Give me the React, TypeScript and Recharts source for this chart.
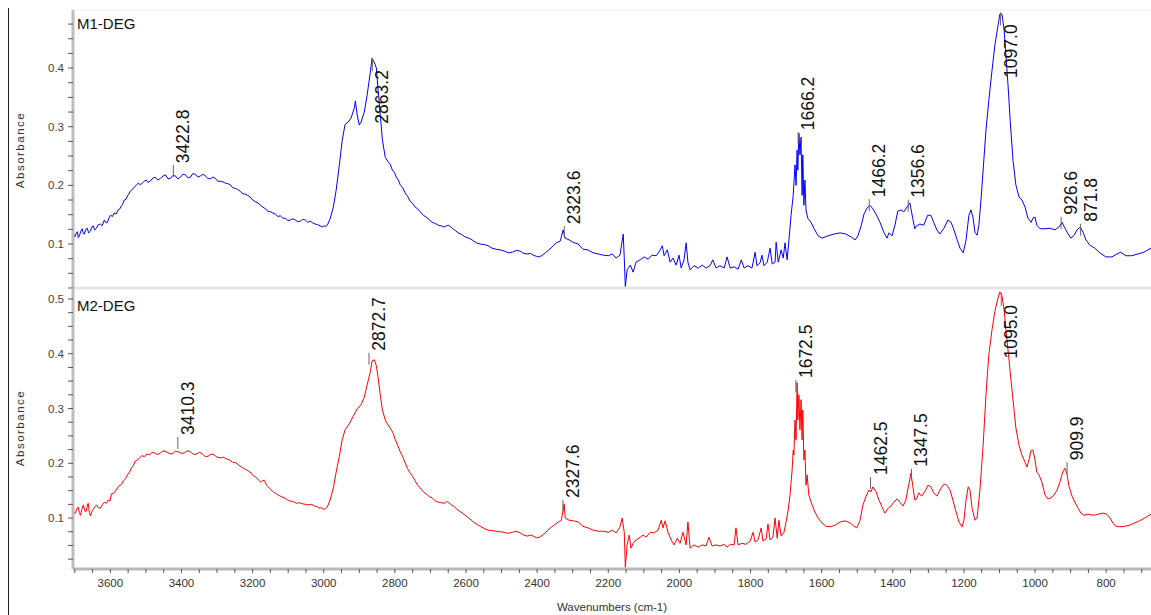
import React from "react"
import { LineChart, Line, XAxis, YAxis, ReferenceDot, ReferenceLine } from "recharts"

// M1-DEG spectrum: [wavenumber cm-1, absorbance]
const m1Spectrum: [number, number][] = [
    [3704, 0.119], [3700, 0.112], [3696, 0.118], [3693, 0.121], [3690, 0.111], [3687, 0.114], [3683, 0.122],
    [3679, 0.126], [3676, 0.118], [3673, 0.117], [3669, 0.125], [3665, 0.127], [3661, 0.119], [3656, 0.122],
    [3652, 0.129], [3648, 0.131], [3644, 0.124], [3639, 0.127], [3634, 0.133], [3628, 0.134], [3623, 0.131],
    [3617, 0.141], [3612, 0.136], [3608, 0.137], [3604, 0.144], [3600, 0.149], [3594, 0.147], [3589, 0.153],
    [3584, 0.151], [3578, 0.158], [3573, 0.160], [3569, 0.165], [3565, 0.168], [3561, 0.175], [3556, 0.176],
    [3552, 0.182], [3548, 0.185], [3544, 0.190], [3538, 0.193], [3533, 0.197], [3527, 0.200], [3521, 0.204],
    [3516, 0.201], [3510, 0.204], [3505, 0.207], [3499, 0.209], [3494, 0.205], [3488, 0.207], [3481, 0.212],
    [3474, 0.214], [3467, 0.209], [3459, 0.212], [3452, 0.216], [3445, 0.218], [3438, 0.211], [3431, 0.212],
    [3424, 0.217], [3417, 0.216], [3410, 0.211], [3403, 0.214], [3396, 0.219], [3389, 0.218], [3382, 0.213],
    [3375, 0.214], [3368, 0.220], [3361, 0.219], [3354, 0.214], [3347, 0.216], [3340, 0.219], [3333, 0.216],
    [3326, 0.212], [3319, 0.211], [3312, 0.214], [3305, 0.212], [3298, 0.207], [3291, 0.207], [3284, 0.206],
    [3277, 0.204], [3270, 0.203], [3263, 0.201], [3256, 0.196], [3249, 0.195], [3242, 0.193], [3235, 0.190],
    [3228, 0.186], [3221, 0.185], [3214, 0.183], [3207, 0.180], [3200, 0.175], [3192, 0.172], [3185, 0.170],
    [3178, 0.166], [3171, 0.163], [3164, 0.160], [3157, 0.156], [3150, 0.155], [3143, 0.153], [3136, 0.151],
    [3129, 0.147], [3122, 0.148], [3115, 0.144], [3108, 0.144], [3101, 0.140], [3094, 0.141], [3087, 0.143],
    [3080, 0.141], [3073, 0.138], [3066, 0.139], [3059, 0.142], [3052, 0.141], [3045, 0.137], [3038, 0.139],
    [3031, 0.136], [3024, 0.134], [3017, 0.133], [3010, 0.131], [3004, 0.129], [2999, 0.131], [2994, 0.130],
    [2990, 0.132], [2982, 0.143], [2973, 0.163],
    [2965, 0.192], [2956, 0.235], [2948, 0.277], [2940, 0.304], [2931, 0.308], [2923, 0.315], [2914, 0.332],
    [2911, 0.344], [2906, 0.320], [2900, 0.303], [2895, 0.308], [2886, 0.325], [2878, 0.354], [2869, 0.393],
    [2864, 0.417], [2858, 0.410], [2852, 0.400], [2847, 0.362], [2841, 0.320], [2835, 0.277], [2827, 0.248],
    [2819, 0.240], [2813, 0.236], [2807, 0.226], [2801, 0.222], [2796, 0.214], [2790, 0.209], [2785, 0.201],
    [2778, 0.196], [2771, 0.187], [2764, 0.181], [2757, 0.173], [2750, 0.169], [2743, 0.163], [2736, 0.160],
    [2729, 0.155], [2720, 0.149], [2712, 0.146], [2703, 0.141], [2695, 0.137], [2686, 0.135], [2678, 0.132],
    [2670, 0.131], [2661, 0.129], [2655, 0.131], [2650, 0.132], [2644, 0.130], [2639, 0.127], [2630, 0.123],
    [2622, 0.119], [2612, 0.116], [2602, 0.112], [2592, 0.110], [2583, 0.107], [2571, 0.102], [2560, 0.100],
    [2549, 0.099], [2538, 0.097], [2527, 0.093], [2515, 0.091], [2504, 0.090], [2493, 0.088], [2481, 0.085],
    [2470, 0.086], [2459, 0.089], [2448, 0.088], [2438, 0.084], [2428, 0.083], [2419, 0.084], [2411, 0.081],
    [2402, 0.079], [2394, 0.078], [2385, 0.081], [2377, 0.085], [2369, 0.089], [2361, 0.093], [2353, 0.098],
    [2346, 0.102], [2335, 0.105], [2327, 0.124], [2321, 0.110], [2310, 0.107], [2299, 0.103], [2285, 0.100],
    [2271, 0.091], [2257, 0.090], [2243, 0.085], [2228, 0.083], [2214, 0.081], [2200, 0.080], [2189, 0.083],
    [2178, 0.076], [2167, 0.081], [2158, 0.117], [2155, 0.076], [2152, 0.027], [2147, 0.056], [2138, 0.064],
    [2130, 0.052], [2122, 0.069], [2110, 0.073], [2099, 0.078], [2088, 0.074], [2077, 0.081], [2065, 0.080],
    [2054, 0.090], [2048, 0.097], [2043, 0.080], [2034, 0.090], [2026, 0.069], [2018, 0.076], [2009, 0.064],
    [2001, 0.081], [1995, 0.059], [1987, 0.073], [1981, 0.102], [1976, 0.069], [1970, 0.056], [1959, 0.063],
    [1947, 0.059], [1936, 0.064], [1925, 0.059], [1914, 0.063], [1906, 0.073], [1897, 0.059], [1886, 0.063],
    [1874, 0.059], [1866, 0.078], [1857, 0.059], [1846, 0.061], [1835, 0.057], [1826, 0.073], [1818, 0.059],
    [1807, 0.063], [1796, 0.059], [1787, 0.086], [1782, 0.063], [1773, 0.068], [1768, 0.081], [1762, 0.063],
    [1753, 0.069], [1745, 0.093], [1739, 0.066], [1731, 0.069], [1728, 0.103], [1722, 0.069], [1714, 0.090],
    [1708, 0.076], [1703, 0.102], [1697, 0.073], [1692, 0.107], [1686, 0.149], [1680, 0.183], [1675, 0.235],
    [1672, 0.200], [1669, 0.260], [1667, 0.226], [1664, 0.289], [1661, 0.252], [1658, 0.282], [1655, 0.183],
    [1653, 0.252], [1650, 0.166], [1647, 0.209], [1644, 0.158], [1639, 0.144], [1630, 0.137], [1622, 0.127],
    [1610, 0.114], [1599, 0.110], [1582, 0.114], [1565, 0.117], [1548, 0.119], [1532, 0.117], [1517, 0.112],
    [1506, 0.107], [1498, 0.114], [1489, 0.131], [1481, 0.151], [1473, 0.161], [1464, 0.166], [1456, 0.160],
    [1447, 0.151], [1436, 0.137], [1425, 0.120], [1416, 0.110], [1411, 0.119], [1402, 0.114], [1394, 0.132],
    [1386, 0.156], [1377, 0.158], [1369, 0.155], [1360, 0.163], [1352, 0.170], [1344, 0.144], [1338, 0.126],
    [1333, 0.131], [1324, 0.134], [1313, 0.132], [1302, 0.149], [1293, 0.149], [1285, 0.137], [1276, 0.124],
    [1268, 0.117], [1256, 0.127], [1245, 0.141], [1236, 0.137], [1228, 0.124], [1219, 0.107], [1211, 0.093],
    [1202, 0.085], [1194, 0.107], [1186, 0.149], [1180, 0.158], [1174, 0.144], [1169, 0.120], [1163, 0.115],
    [1158, 0.132], [1152, 0.175], [1146, 0.226], [1138, 0.294], [1130, 0.345], [1121, 0.396], [1113, 0.439],
    [1104, 0.473], [1099, 0.492], [1093, 0.492], [1087, 0.465], [1082, 0.422], [1076, 0.371], [1070, 0.311],
    [1062, 0.243], [1054, 0.201], [1045, 0.180], [1037, 0.175], [1028, 0.163], [1020, 0.144], [1011, 0.137],
    [1006, 0.144], [1000, 0.146], [995, 0.132], [986, 0.126], [972, 0.126], [958, 0.127], [944, 0.124],
    [933, 0.129], [924, 0.137], [916, 0.127], [907, 0.117], [899, 0.110], [890, 0.115], [882, 0.124],
    [873, 0.129], [865, 0.120], [857, 0.107], [846, 0.098], [832, 0.093], [818, 0.085], [801, 0.078],
    [784, 0.078], [770, 0.083], [759, 0.086], [745, 0.080], [728, 0.080], [711, 0.083], [694, 0.086],
    [683, 0.090], [674, 0.093],
]

// M2-DEG spectrum: [wavenumber cm-1, absorbance]
const m2Spectrum: [number, number][] = [
    [3704, 0.115], [3701, 0.108], [3698, 0.109], [3694, 0.117], [3690, 0.120], [3687, 0.110], [3684, 0.105],
    [3680, 0.116], [3676, 0.124], [3671, 0.112], [3667, 0.113], [3664, 0.126], [3662, 0.127], [3659, 0.110],
    [3656, 0.104], [3652, 0.112], [3648, 0.116], [3643, 0.121], [3639, 0.124], [3634, 0.119], [3628, 0.118],
    [3622, 0.125], [3617, 0.129], [3611, 0.127], [3606, 0.133], [3601, 0.131], [3597, 0.144], [3591, 0.145],
    [3586, 0.149], [3580, 0.155], [3575, 0.159], [3569, 0.161], [3563, 0.168], [3557, 0.172], [3552, 0.179],
    [3546, 0.184], [3541, 0.191], [3535, 0.196], [3530, 0.204], [3524, 0.206], [3518, 0.210], [3511, 0.214],
    [3504, 0.212], [3497, 0.217], [3490, 0.215], [3483, 0.220], [3476, 0.219], [3467, 0.216], [3459, 0.219],
    [3451, 0.223], [3443, 0.221], [3434, 0.218], [3426, 0.217], [3417, 0.222], [3409, 0.221], [3400, 0.218],
    [3392, 0.219], [3383, 0.223], [3375, 0.221], [3366, 0.216], [3358, 0.217], [3349, 0.220], [3341, 0.217],
    [3333, 0.212], [3325, 0.213], [3316, 0.217], [3308, 0.215], [3299, 0.211], [3291, 0.210], [3282, 0.211],
    [3274, 0.208], [3265, 0.206], [3257, 0.202], [3248, 0.201], [3240, 0.197], [3231, 0.193], [3223, 0.190],
    [3215, 0.187], [3207, 0.184], [3199, 0.178], [3192, 0.175], [3185, 0.171], [3178, 0.166], [3172, 0.168],
    [3167, 0.169], [3161, 0.160], [3156, 0.157], [3149, 0.152], [3142, 0.148], [3135, 0.145], [3128, 0.142],
    [3119, 0.139], [3111, 0.137], [3102, 0.133], [3094, 0.131], [3085, 0.130], [3077, 0.127], [3068, 0.128],
    [3060, 0.126], [3051, 0.125], [3043, 0.124], [3034, 0.125], [3026, 0.122], [3019, 0.121], [3013, 0.118],
    [3007, 0.119], [3001, 0.116], [2995, 0.117], [2990, 0.120], [2982, 0.133],
    [2973, 0.155], [2965, 0.184], [2956, 0.213], [2948, 0.243], [2940, 0.261], [2928, 0.272], [2917, 0.286],
    [2906, 0.299], [2895, 0.307], [2886, 0.321], [2878, 0.343], [2869, 0.367], [2864, 0.387], [2858, 0.389],
    [2852, 0.378], [2847, 0.356], [2841, 0.325], [2835, 0.297], [2827, 0.279], [2819, 0.270], [2810, 0.261],
    [2804, 0.254], [2799, 0.243], [2792, 0.233], [2785, 0.221], [2778, 0.212], [2771, 0.201], [2764, 0.190],
    [2757, 0.182], [2750, 0.176], [2743, 0.168], [2736, 0.160], [2729, 0.155], [2720, 0.148], [2712, 0.144],
    [2703, 0.139], [2695, 0.137], [2686, 0.131], [2678, 0.129], [2670, 0.128], [2661, 0.127], [2655, 0.130],
    [2650, 0.129], [2643, 0.125], [2636, 0.122], [2627, 0.117], [2619, 0.113], [2610, 0.109], [2602, 0.105],
    [2592, 0.100], [2583, 0.095], [2571, 0.089], [2560, 0.085], [2549, 0.081], [2538, 0.078], [2527, 0.077],
    [2515, 0.076], [2504, 0.075], [2493, 0.074], [2481, 0.072], [2470, 0.074], [2459, 0.076], [2448, 0.073],
    [2438, 0.069], [2428, 0.067], [2419, 0.069], [2411, 0.067], [2402, 0.064], [2394, 0.065], [2385, 0.069],
    [2377, 0.073], [2370, 0.078], [2363, 0.082], [2356, 0.085], [2349, 0.089], [2340, 0.093],
    [2332, 0.096], [2324, 0.126], [2321, 0.100], [2310, 0.096], [2299, 0.095], [2285, 0.093], [2271, 0.085],
    [2257, 0.082], [2243, 0.078], [2228, 0.076], [2214, 0.076], [2200, 0.074], [2189, 0.078], [2178, 0.073],
    [2167, 0.084], [2161, 0.100], [2155, 0.074], [2152, 0.010], [2147, 0.051], [2141, 0.069], [2136, 0.045],
    [2130, 0.054], [2122, 0.060], [2110, 0.065], [2102, 0.069], [2094, 0.065], [2082, 0.074], [2071, 0.073],
    [2060, 0.078], [2051, 0.096], [2046, 0.082], [2040, 0.095], [2032, 0.074], [2023, 0.060], [2015, 0.051],
    [2006, 0.063], [1998, 0.054], [1990, 0.074], [1981, 0.051], [1976, 0.093], [1970, 0.045], [1959, 0.051],
    [1947, 0.047], [1936, 0.051], [1925, 0.049], [1917, 0.065], [1908, 0.049], [1897, 0.051], [1886, 0.049],
    [1874, 0.052], [1866, 0.047], [1857, 0.052], [1846, 0.051], [1841, 0.082], [1835, 0.051], [1824, 0.054],
    [1813, 0.052], [1801, 0.058], [1793, 0.074], [1787, 0.056], [1779, 0.060], [1770, 0.082], [1765, 0.058],
    [1756, 0.062], [1751, 0.089], [1745, 0.060], [1737, 0.065], [1731, 0.100], [1725, 0.063], [1720, 0.096],
    [1714, 0.067], [1706, 0.074], [1700, 0.093], [1694, 0.115], [1689, 0.142], [1683, 0.188], [1680, 0.224],
    [1678, 0.215], [1675, 0.279], [1672, 0.243], [1669, 0.347], [1667, 0.279], [1664, 0.325], [1661, 0.261],
    [1658, 0.316], [1655, 0.243], [1653, 0.297], [1650, 0.206], [1647, 0.224], [1644, 0.160], [1641, 0.179],
    [1636, 0.142], [1627, 0.124], [1619, 0.111], [1610, 0.100], [1599, 0.091], [1588, 0.085], [1576, 0.084],
    [1562, 0.087], [1548, 0.093], [1534, 0.095], [1520, 0.091], [1509, 0.085], [1501, 0.082], [1492, 0.096],
    [1484, 0.124], [1475, 0.140], [1467, 0.151], [1461, 0.148], [1456, 0.157], [1447, 0.148], [1439, 0.133],
    [1430, 0.120], [1422, 0.109], [1413, 0.118], [1405, 0.122], [1397, 0.129], [1388, 0.135], [1380, 0.129],
    [1371, 0.122], [1363, 0.133], [1358, 0.151], [1349, 0.182], [1344, 0.160], [1338, 0.133], [1333, 0.135],
    [1327, 0.146], [1319, 0.140], [1310, 0.148], [1301, 0.160], [1293, 0.157], [1285, 0.146], [1276, 0.140],
    [1264, 0.155], [1256, 0.162], [1248, 0.160], [1239, 0.151], [1231, 0.133], [1222, 0.111], [1214, 0.093],
    [1205, 0.084], [1200, 0.096], [1194, 0.133], [1188, 0.157], [1183, 0.151], [1177, 0.118], [1169, 0.096],
    [1163, 0.100], [1155, 0.151], [1146, 0.233], [1138, 0.325], [1130, 0.398], [1121, 0.444], [1113, 0.477],
    [1104, 0.502], [1099, 0.513], [1093, 0.506], [1087, 0.480], [1082, 0.444], [1076, 0.407], [1070, 0.367],
    [1062, 0.316], [1054, 0.265], [1045, 0.233], [1037, 0.215], [1028, 0.202], [1023, 0.193], [1017, 0.206],
    [1011, 0.224], [1006, 0.224], [1000, 0.206], [995, 0.184], [989, 0.179], [981, 0.166], [972, 0.142],
    [964, 0.135], [955, 0.137], [947, 0.142], [938, 0.151], [930, 0.166], [922, 0.184], [916, 0.191],
    [910, 0.180], [905, 0.159], [896, 0.140], [888, 0.129], [879, 0.118], [871, 0.109], [862, 0.105],
    [851, 0.107], [837, 0.105], [823, 0.107], [809, 0.109], [798, 0.107], [789, 0.100], [781, 0.091],
    [773, 0.085], [762, 0.084], [748, 0.085], [734, 0.087], [720, 0.091], [706, 0.095], [692, 0.100],
    [674, 0.107],
]

// peak labels: [label, wavenumber, absorbance at marker]
const m1Peaks: [string, number, number][] = [
    ["3422.8", 3422.8, 0.214], ["2863.2", 2863.2, 0.417], ["2323.6", 2323.6, 0.110],
    ["1666.2", 1666.2, 0.270], ["1466.2", 1466.2, 0.156], ["1356.6", 1356.6, 0.155],
    ["1097.0", 1097.0, 0.495], ["926.6", 926.6, 0.126], ["871.8", 871.8, 0.114],
]
const m2Peaks: [string, number, number][] = [
    ["3410.3", 3410.3, 0.226], ["2872.7", 2872.7, 0.380], ["2327.6", 2327.6, 0.111],
    ["1672.5", 1672.5, 0.330], ["1462.5", 1462.5, 0.153], ["1347.5", 1347.5, 0.168],
    ["1095.0", 1095.0, 0.511], ["909.9", 909.9, 0.180],
]

const xMajorTicks = [3600, 3400, 3200, 3000, 2800, 2600, 2400, 2200, 2000, 1800, 1600, 1400, 1200, 1000, 800]
const xAllTicks = [
    3700, 3650, 3600, 3550, 3500, 3450, 3400, 3350, 3300, 3250, 3200, 3150, 3100, 3050, 3000, 2950, 2900,
    2850, 2800, 2750, 2700, 2650, 2600, 2550, 2500, 2450, 2400, 2350, 2300, 2250, 2200, 2150, 2100, 2050,
    2000, 1950, 1900, 1850, 1800, 1750, 1700, 1650, 1600, 1550, 1500, 1450, 1400, 1350, 1300, 1250, 1200,
    1150, 1100, 1050, 1000, 950, 900, 850, 800, 750, 700,
]
const y1MajorTicks = [0.1, 0.2, 0.3, 0.4]
const y1AllTicks = [
    0.025, 0.05, 0.075, 0.1, 0.125, 0.15, 0.175, 0.2, 0.225, 0.25, 0.275, 0.3, 0.325, 0.35, 0.375, 0.4,
    0.425, 0.45, 0.475,
]
const y2MajorTicks = [0.1, 0.2, 0.3, 0.4, 0.5]
const y2AllTicks = [
    0.025, 0.05, 0.075, 0.1, 0.125, 0.15, 0.175, 0.2, 0.225, 0.25, 0.275, 0.3, 0.325, 0.35, 0.375, 0.4,
    0.425, 0.45, 0.475, 0.5,
]

const X_DOMAIN: [number, number] = [674, 3705]
const Y1_DOMAIN: [number, number] = [0.025, 0.499]
const Y2_DOMAIN: [number, number] = [0.007, 0.52]

const FONT = "'Liberation Sans', Arial, sans-serif"
const W = 1151
const Y_AXIS_W = 73

const near = (list: number[], v: number) => list.some((m) => Math.abs(m - v) < 1e-6)

function YTick({ x, y, payload, majors }: any) {
    if (!near(majors, payload.value)) return null
    return (
        <text x={x} y={y} textAnchor="end" dominantBaseline="central" fontSize={11.5} fill="#444" fontFamily={FONT}>
            {payload.value.toFixed(1)}
        </text>
    )
}

function XTick({ x, y, payload }: any) {
    if (!near(xMajorTicks, payload.value)) return null
    return (
        <text x={x} y={y} dy="0.71em" textAnchor="middle" fontSize={11.5} fill="#333" fontFamily={FONT}>
            {payload.value}
        </text>
    )
}

// tick + rotated label; falls below the peak when there is no room above
const peakShape = (label: string, plotTop: number) => (props: any) => {
    const { cx, cy } = props
    const textLen = 54
    const above = cy - 14 - textLen >= plotTop
    const tx = cx + 16
    if (above) {
        const ty = cy - 14
        return (
            <g>
                <line x1={cx} x2={cx} y1={cy} y2={cy - 12} stroke="#666" strokeWidth={1} />
                <text x={tx} y={ty} transform={`rotate(-90 ${tx} ${ty})`} textAnchor="start" fontSize={17.5} fill="#111" fontFamily={FONT}>
                    {label}
                </text>
            </g>
        )
    }
    const ty = cy + 12
    return (
        <g>
            <line x1={cx} x2={cx} y1={cy} y2={cy + 13} stroke="#666" strokeWidth={1} />
            <text x={tx} y={ty} transform={`rotate(-90 ${tx} ${ty})`} textAnchor="end" fontSize={17.5} fill="#111" fontFamily={FONT}>
                {label}
            </text>
        </g>
    )
}

const toRows = (s: [number, number][]) => s.map(([wn, a]) => ({ wn, a }))

function Panel(props: {
    data: [number, number][]
    peaks: [string, number, number][]
    color: string
    domain: [number, number]
    allTicks: number[]
    majors: number[]
    height: number
    marginTop: number
    showX: boolean
}) {
    const { data, peaks, color, domain, allTicks, majors, height, marginTop, showX } = props
    return (
        <LineChart width={W} height={height} data={toRows(data)} margin={{ top: marginTop, right: 0, left: 0, bottom: 0 }}>
            {showX ? (
                <XAxis
                    dataKey="wn"
                    type="number"
                    domain={X_DOMAIN}
                    reversed
                    allowDataOverflow
                    ticks={xAllTicks}
                    interval={0}
                    tick={<XTick />}
                    tickSize={4}
                    tickMargin={6}
                    tickLine={{ stroke: "#555" }}
                    axisLine={{ stroke: "#b8b8b8", strokeWidth: 3 }}
                    height={46}
                    label={{ value: "Wavenumbers (cm-1)", position: "insideBottom", offset: 4, fill: "#333", fontSize: 11.5, fontFamily: FONT }}
                />
            ) : (
                <XAxis
                    dataKey="wn"
                    type="number"
                    domain={X_DOMAIN}
                    reversed
                    allowDataOverflow
                    tick={false}
                    tickLine={false}
                    axisLine={{ stroke: "#e6e6e6", strokeWidth: 3 }}
                    height={2}
                />
            )}
            <YAxis
                type="number"
                domain={domain}
                allowDataOverflow
                ticks={allTicks}
                interval={0}
                width={Y_AXIS_W}
                tick={<YTick majors={majors} />}
                tickSize={5}
                tickMargin={4}
                tickLine={{ stroke: "#555" }}
                axisLine={{ stroke: "#bdbdbd", strokeWidth: 3 }}
            />
            {!showX && <ReferenceLine y={domain[1]} stroke="#f0f0f0" strokeWidth={1} />}
            <Line type="linear" dataKey="a" stroke={color} strokeWidth={1} dot={false} isAnimationActive={false} />
            {peaks.map(([label, wn, a]) => (
                <ReferenceDot key={label} x={wn} y={a} r={0} ifOverflow="visible" shape={peakShape(label, marginTop)} />
            ))}
        </LineChart>
    )
}

const textStyle: React.CSSProperties = { position: "absolute", fontFamily: FONT, whiteSpace: "nowrap" }

export default function App() {
    return (
        <div style={{ position: "absolute", left: 0, top: 0, width: W, height: 615, background: "#fff", overflow: "hidden" }}>
            <div style={{ position: "absolute", left: 8, top: 8, width: 1, height: 607, background: "#222" }} />
            <div style={{ position: "absolute", left: 0, top: 0 }}>
                <Panel data={m1Spectrum} peaks={m1Peaks} color="#0000ff" domain={Y1_DOMAIN} allTicks={y1AllTicks}
                    majors={y1MajorTicks} height={290} marginTop={10} showX={false} />
            </div>
            <div style={{ position: "absolute", left: 0, top: 288 }}>
                <Panel data={m2Spectrum} peaks={m2Peaks} color="#ff0000" domain={Y2_DOMAIN} allTicks={y2AllTicks}
                    majors={y2MajorTicks} height={327} marginTop={0} showX={true} />
            </div>
            <div style={{ ...textStyle, left: 77, top: 15, fontSize: 15, color: "#111" }}>M1-DEG</div>
            <div style={{ ...textStyle, left: 77, top: 297, fontSize: 15, color: "#111" }}>M2-DEG</div>
            <div style={{ ...textStyle, left: 20, top: 150, fontSize: 11.5, letterSpacing: 1.5, color: "#333", transform: "translate(-50%, -50%) rotate(-90deg)" }}>
                Absorbance
            </div>
            <div style={{ ...textStyle, left: 20, top: 428, fontSize: 11.5, letterSpacing: 1.5, color: "#333", transform: "translate(-50%, -50%) rotate(-90deg)" }}>
                Absorbance
            </div>
        </div>
    )
}
